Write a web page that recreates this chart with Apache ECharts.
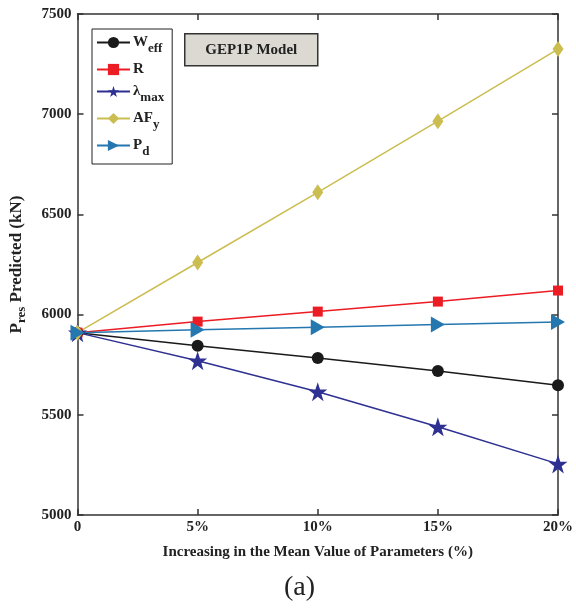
<!DOCTYPE html>
<html>
<head>
<meta charset="utf-8">
<script src="https://cdn.jsdelivr.net/npm/echarts@6/dist/echarts.min.js"></script>
<style>
  html, body { margin: 0; padding: 0; background: #fff; }
  #chart { width: 576px; height: 609px; }
</style>
</head>
<body>
<div id="chart"></div>
<script>
// Increase in the mean value of each input parameter
var categories = ['0', '5%', '10%', '15%', '20%'];

// Predicted residual strength P_res (kN) for each parameter
var weff   = [5910, 5845, 5783, 5718, 5648];
var rVals  = [5910, 5965, 6015, 6065, 6120];
var lamMax = [5910, 5770, 5615, 5440, 5255];
var afy    = [5910, 6260, 6610, 6965, 7325];
var pd     = [5910, 5924, 5937, 5950, 5963];

var seriesNames = ['W{s|eff}', 'R', 'λ{s|max}', 'AF{s|y}', 'P{s|d}'];
var yTicks = [5000, 5500, 6000, 6500, 7000, 7500];

var FONT = '"Liberation Serif", "DejaVu Serif", serif';
var STAR = 'path://M50,0 L61.8,35.1 L98.1,35.1 L68.8,56.7 L79.4,90.5 L50,69.6 L20.6,90.5 L31.2,56.7 L1.9,35.1 L38.2,35.1 Z';
var TRI_RIGHT = 'path://M0,0 L10,5 L0,10 Z';

var chart = echarts.init(document.getElementById('chart'), null, { renderer: 'canvas' });

function line(name, data, color, symbol, size) {
  return {
    name: name,
    type: 'line',
    data: data,
    symbol: symbol,
    symbolSize: size,
    showAllSymbol: true,
    lineStyle: { color: color, width: 1.5 },
    itemStyle: { color: color },
    emphasis: { disabled: true },
    animation: false,
    z: 3
  };
}

var axisLineStyle = { color: '#333', width: 1.5 };

chart.setOption({
  backgroundColor: '#fff',
  animation: false,
  grid: { left: 76, right: 15, top: 14, bottom: 94, containLabel: false },
  xAxis: [{
    type: 'category',
    data: categories,
    boundaryGap: false,
    axisLine: { show: true, onZero: false, lineStyle: axisLineStyle },
    axisTick: { show: true, inside: true, length: 6, lineStyle: axisLineStyle },
    axisLabel: { color: '#222', fontFamily: FONT, fontWeight: 'bold', fontSize: 15, margin: 5 },
    splitLine: { show: false },
    name: 'Increasing in the Mean Value of Parameters (%)',
    nameLocation: 'middle',
    nameGap: 30,
    nameTextStyle: { color: '#222', fontFamily: FONT, fontWeight: 'bold', fontSize: 15 }
  }, {
    type: 'category',
    data: categories,
    boundaryGap: false,
    position: 'top',
    axisLine: { show: true, lineStyle: axisLineStyle },
    axisTick: { show: true, inside: true, length: 6, lineStyle: axisLineStyle },
    axisLabel: { show: false },
    splitLine: { show: false }
  }],
  yAxis: [{
    type: 'value',
    min: yTicks[0],
    max: yTicks[yTicks.length - 1],
    interval: 500,
    axisLine: { show: true, lineStyle: axisLineStyle },
    axisTick: { show: true, inside: true, length: 6, lineStyle: axisLineStyle },
    axisLabel: {
      color: '#222', fontFamily: FONT, fontWeight: 'bold', fontSize: 15, margin: 6,
      formatter: function (v) { return String(v); }
    },
    splitLine: { show: false },
    name: 'P{s|res} Predicted (kN)',
    nameLocation: 'middle',
    nameRotate: 90,
    nameGap: 49,
    nameTextStyle: {
      color: '#222', fontFamily: FONT, fontWeight: 'bold', fontSize: 17,
      rich: {
        s: { fontFamily: FONT, fontWeight: 'bold', fontSize: 13, color: '#222', padding: [11, 0, 0, 0] }
      }
    }
  }, {
    type: 'value',
    min: yTicks[0],
    max: yTicks[yTicks.length - 1],
    interval: 500,
    position: 'right',
    axisLine: { show: true, lineStyle: axisLineStyle },
    axisTick: { show: true, inside: true, length: 6, lineStyle: axisLineStyle },
    axisLabel: { show: false },
    splitLine: { show: false }
  }],
  legend: {
    orient: 'vertical',
    left: 92,
    top: 29,
    width: 80,
    padding: [6, 8, 6, 4],
    itemGap: 7,
    itemWidth: 33,
    itemHeight: 14,
    borderColor: '#222',
    borderWidth: 1,
    backgroundColor: '#fff',
    selectedMode: false,
    data: seriesNames,
    textStyle: {
      color: '#222', fontFamily: FONT, fontWeight: 'bold', fontSize: 15, padding: [0, 0, 0, -2],
      rich: {
        s: { fontFamily: FONT, fontWeight: 'bold', fontSize: 13, color: '#222', padding: [12, 0, 0, 0] }
      }
    }
  },
  graphic: [{
    type: 'group',
    left: 184,
    top: 33,
    children: [{
      type: 'rect',
      shape: { x: 0, y: 0, width: 133, height: 32 },
      style: { fill: '#dcd8d2', stroke: '#333', lineWidth: 1.5 }
    }, {
      type: 'text',
      x: 66.5,
      y: 16,
      style: {
        text: 'GEP1P Model',
        fill: '#222',
        font: 'bold 15px ' + FONT,
        align: 'center',
        verticalAlign: 'middle'
      }
    }]
  }, {
    type: 'text',
    left: 284,
    top: 574,
    style: {
      text: '(a)',
      fill: '#222',
      font: '28px ' + FONT
    }
  }],
  series: [
    line(seriesNames[0], weff, '#1a1a1a', 'circle', 12),
    line(seriesNames[1], rVals, '#ec1c24', 'rect', 10),
    line(seriesNames[2], lamMax, '#2e3192', STAR, 19),
    line(seriesNames[3], afy, '#cbbd50', 'diamond', [11, 16]),
    line(seriesNames[4], pd, '#2577b0', TRI_RIGHT, [14, 16])
  ]
});
</script>
</body>
</html>
